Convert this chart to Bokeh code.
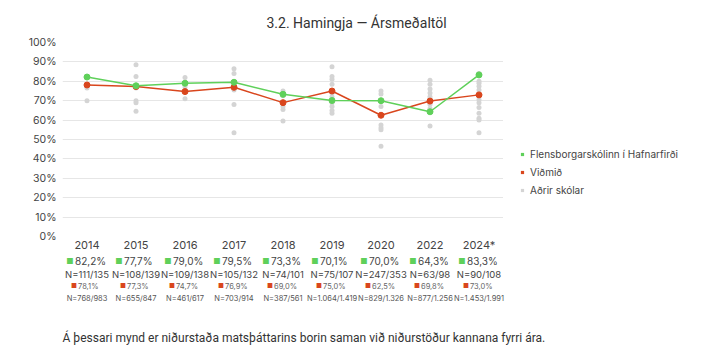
from bokeh.plotting import figure
from bokeh.layouts import column, row
from bokeh.models import (ColumnDataSource, Legend, LegendItem, FixedTicker, Range1d)
from bokeh.core.properties import value
from bokeh.embed import file_html
from bokeh.resources import INLINE

years = ["2014", "2015", "2016", "2017", "2018", "2019", "2020", "2022", "2024*"]
school = [82.2, 77.7, 79.0, 79.5, 73.3, 70.1, 70.0, 64.3, 83.3]
school_n = ["N=111/135", "N=108/139", "N=109/138", "N=105/132", "N=74/101",
            "N=75/107", "N=247/353", "N=63/98", "N=90/108"]
bench = [78.1, 77.3, 74.7, 76.9, 69.0, 75.0, 62.5, 69.8, 73.0]
bench_n = ["N=768/983", "N=655/847", "N=461/617", "N=703/914", "N=387/561",
           "N=1.064/1.419", "N=829/1.326", "N=877/1.256", "N=1.453/1.991"]
others = [
    [70.0, 76.5],
    [88.5, 82.5, 76.5, 70.0, 69.0, 64.5],
    [82.0, 77.0, 71.0],
    [86.5, 84.0, 75.5, 68.0, 53.5],
    [75.0, 72.5, 67.0, 65.5, 59.5],
    [87.5, 82.5, 81.0, 78.5, 74.0, 72.0, 69.0, 67.0, 65.0, 63.5],
    [75.0, 73.5, 67.0, 57.5, 56.0, 55.0, 46.5],
    [80.5, 78.5, 76.0, 74.0, 72.0, 70.5, 68.0, 66.0, 57.0],
    [84.0, 80.0, 79.0, 77.5, 75.5, 70.5, 69.0, 66.5, 63.5, 61.0, 60.0, 53.5],
]
series_names = ["Flensborgarskólinn í Hafnarfirði", "Viðmið", "Aðrir skólar"]
y_ticks = [0, 10, 20, 30, 40, 50, 60, 70, 80, 90, 100]
title_text = "3.2. Hamingja — Ársmeðaltöl"
footer_text = "Á þessari mynd er niðurstaða matsþáttarins borin saman við niðurstöður kannana fyrri ára."

GREEN = "#5fd05a"
RED = "#d9461d"
GREY = "#d4d4d4"
TXT = "#444444"
FONT = "Inter"

def pct(v):
    return f"{v:.1f}".replace(".", ",") + "%"

ox, oy = [], []
for yr, vals in zip(years, others):
    for v in vals:
        ox.append(yr)
        oy.append(v)

CH = 254
# ---------------- main chart ----------------
p = figure(x_range=years, y_range=Range1d(0, 100), width=503, height=CH,
           output_backend="svg", toolbar_location=None,
           min_border_left=62, min_border_right=0, min_border_top=41,
           min_border_bottom=14)
p.outline_line_color = None
p.title.text = title_text
p.title.align = "left"
p.title.offset = 204
p.title.standoff = 24
p.title.text_font = "Roboto"
p.title.text_font_size = "14px"
p.title.text_font_style = "normal"
p.title.text_color = "#333333"

p.scatter(ox, oy, size=5, color=GREY, line_color=None)
p.line(years, bench, color=RED, line_width=1.5)
p.scatter(years, bench, size=6, color=RED)
p.line(years, school, color=GREEN, line_width=1.5)
p.scatter(years, school, size=6, color=GREEN)

p.yaxis.ticker = FixedTicker(ticks=y_ticks)
p.yaxis.major_label_overrides = {t: f"{t}%" for t in y_ticks}
p.yaxis.axis_line_color = None
p.yaxis.major_tick_line_color = None
p.yaxis.minor_tick_line_color = None
p.yaxis.major_tick_out = 0
p.yaxis.major_label_text_font = FONT
p.yaxis.major_label_text_font_size = "10.5px"
p.yaxis.major_label_text_color = TXT
p.yaxis.major_label_standoff = 6
p.xaxis.axis_line_color = None
p.xaxis.major_tick_line_color = None
p.xaxis.major_tick_out = 0
p.xaxis.major_tick_in = 0
p.xaxis.major_label_text_font = FONT
p.xaxis.major_label_text_font_size = "11px"
p.xaxis.major_label_text_color = TXT
p.xaxis.major_label_standoff = 1
p.xgrid.grid_line_color = None
p.ygrid.grid_line_color = "#e6e6e6"

# ---------------- legend panel ----------------
lf = figure(width=223, height=CH, x_range=Range1d(0, 100), y_range=Range1d(0, 100),
            output_backend="svg", toolbar_location=None,
            min_border=0, min_border_left=0, min_border_right=0,
            min_border_top=0, min_border_bottom=0)
lf.axis.visible = False
lf.grid.visible = False
lf.outline_line_color = None
rend = [
    lf.scatter(x=school, y=school, marker="square", size=7, color=GREEN, line_color=None, visible=False),
    lf.scatter(x=bench, y=bench, marker="square", size=7, color=RED, line_color=None, visible=False),
    lf.scatter(x=oy, y=oy, marker="square", size=7, color=GREY, line_color=None, visible=False),
]
legend = Legend(items=[LegendItem(label=n, renderers=[r]) for n, r in zip(series_names, rend)],
                location=(15, 37), padding=0, margin=0, spacing=0,
                label_height=18, glyph_height=18, glyph_width=8,
                label_text_font=FONT, label_text_font_size="10px",
                label_text_color=TXT, border_line_color=None,
                background_fill_alpha=0, label_standoff=4,
                inactive_fill_alpha=0)
lf.add_layout(legend, "center")

# ---------------- table below ----------------
H = 98
colw = 49.0
tf = figure(width=726, height=H, x_range=Range1d(-62 / colw, (726 - 62) / colw),
            y_range=Range1d(H, 0), output_backend="svg", toolbar_location=None,
            min_border=0, min_border_left=0, min_border_right=0,
            min_border_top=0, min_border_bottom=0)
tf.axis.visible = False
tf.grid.visible = False
tf.outline_line_color = None

xs = [i + 0.5 for i in range(len(years))]
src = ColumnDataSource(dict(
    x=xs,
    sq=["■"] * len(years),
    sp=[pct(v) for v in school],
    sn=school_n,
    bp=[pct(v) for v in bench],
    bn=bench_n,
))

def rowtext(field, y, xo, align, size, color):
    tf.text(x="x", y=y, text=field, source=src, x_offset=xo, text_align=align,
            text_baseline="middle", text_font=value(FONT), text_font_size=size,
            text_color=color)

rowtext("sq", 6, -17, "center", "8px", GREEN)
rowtext("sp", 6, -12, "left", "10px", TXT)
rowtext("sn", 19.5, 0, "center", "9.5px", TXT)
rowtext("sq", 31.5, -13, "center", "6.5px", RED)
rowtext("bp", 31.5, -9, "left", "7.5px", "#666666")
rowtext("bn", 44, 0, "center", "7.5px", "#555555")

tf.text(x=[0], y=[83], text=[footer_text], text_align="left", text_baseline="middle",
        text_font=value("Roboto"), text_font_size="12px", text_color="#333333")

layout = column(row(p, lf, spacing=0), tf, spacing=0)
open("out.html", "w").write(file_html(layout, INLINE))
